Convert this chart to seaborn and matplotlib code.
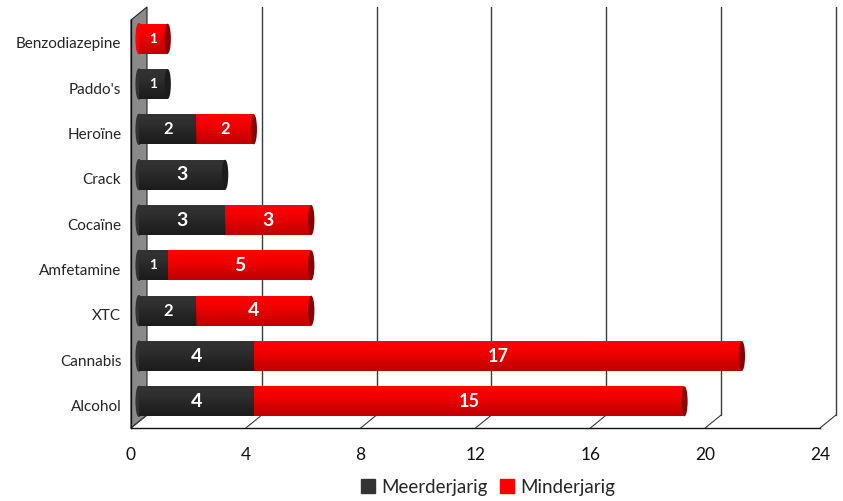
import numpy as np
import pandas as pd
import seaborn as sns
import matplotlib.pyplot as plt
from matplotlib.transforms import offset_copy
from matplotlib.patches import Ellipse, Polygon, Rectangle

# data, top to bottom as in the chart
categories = ["Benzodiazepine", "Paddo's", "Heroïne", "Crack", "Cocaïne",
              "Amfetamine", "XTC", "Cannabis", "Alcohol"]
meerderjarig = [0, 1, 2, 3, 3, 1, 2, 4, 4]
minderjarig = [1, 0, 2, 0, 3, 5, 4, 17, 15]
x_ticks = [0, 4, 8, 12, 16, 20, 24]

df = pd.DataFrame({"drug": categories, "meer": meerderjarig, "minder": minderjarig})
df["totaal"] = df["meer"] + df["minder"]

DARK = "#333333"
RED = "#ff0000"

sns.set_style("white")
plt.rcParams["font.family"] = ["Lato", "DejaVu Sans"]

W, H = 843, 501
fig = plt.figure(figsize=(W / 100, H / 100), dpi=100)
ax = fig.add_axes([131 / W, (H - 428) / H, (820 - 131) / W, (428 - 20) / H])

# stacked bars: total in red, meerderjarig drawn over it
sns.barplot(data=df, y="drug", x="totaal", color=RED, saturation=1, width=0.66,
            errorbar=None, orient="h", ax=ax)
sns.barplot(data=df, y="drug", x="meer", color=DARK, saturation=1, width=0.66,
            errorbar=None, orient="h", ax=ax)

# 3d depth: bars sit a little behind the front plane, grid on the back wall
bar_tr = offset_copy(ax.transData, fig=fig, x=8, y=4, units="dots")
dx = 16 / (689 / 24)
dy = 13 / (408 / 9)

patches = list(ax.patches)
for p in patches:
    p.set_transform(bar_tr)
    p.set_linewidth(0)
    p.set_zorder(3)
    w = p.get_width()
    if w <= 0:
        continue
    y0 = p.get_y()
    h = p.get_height()
    x0 = p.get_x()
    # cylinder shading
    shade = np.zeros((40, 1, 4))
    shade[:, 0, 3] = np.concatenate([np.linspace(0.0, 0.04, 12), np.linspace(0.04, 0.26, 28)])
    im = ax.imshow(shade, extent=(x0, x0 + w, y0 + h, y0), aspect="auto",
                   transform=bar_tr, zorder=3.5, interpolation="bilinear")
    im.set_clip_path(p)

ax.set_xlim(0, 24)
ax.set_ylim(8.5, -0.5)

for i, (m, n) in enumerate(zip(meerderjarig, minderjarig)):
    tot = m + n
    # rounded left end
    left_col = DARK if m > 0 else RED
    ax.add_patch(Ellipse((0, i), 0.2, 0.66, color=left_col, transform=bar_tr, zorder=2.9))
    # end cap
    cap_col = "#8a0000" if n > 0 else "#1c1c1c"
    ax.add_patch(Ellipse((tot, i), 0.22, 0.66, facecolor=cap_col, edgecolor="none",
                         transform=bar_tr, zorder=4))
    for start, v in ((0, m), (m, n)):
        if v > 0:
            size = 13 if v >= 10 else min(7.5 + 2.2 * v, 14)
            ax.text(start + v / 2, i, str(v), color="white", fontweight="bold",
                    fontsize=size, ha="center", va="center",
                    transform=bar_tr, zorder=5)

# back wall grid lines and floor diagonals
for x in x_ticks:
    if x > 0:
        ax.plot([x + dx, x + dx], [8.5 - dy, -0.5 - dy], color="#3a3a3a", lw=1,
                clip_on=False, zorder=1)
    ax.plot([x, x + dx], [8.5, 8.5 - dy], color="#3a3a3a", lw=0.8,
            clip_on=False, zorder=1)

# gray side wall
ax.add_patch(Polygon([(0, 8.5), (dx, 8.5 - dy), (dx, -0.5 - dy), (0, -0.5)],
                     closed=True, facecolor="#8a8a8a", edgecolor="#222222", lw=0.8,
                     clip_on=False, zorder=0.5))

for s in ["top", "right"]:
    ax.spines[s].set_visible(False)
for s in ["left", "bottom"]:
    ax.spines[s].set_color("#111111")
    ax.spines[s].set_linewidth(1)

ax.set_xticks(x_ticks)
ax.set_xticklabels([str(t) for t in x_ticks], fontsize=12.5)
ax.tick_params(axis="x", length=5, width=1, direction="out", pad=9, colors="#111111")
ax.set_yticks(range(len(categories)))
ax.set_yticklabels(categories, fontsize=11)
ax.tick_params(axis="y", which="major", length=0, pad=7)
ax.set_yticks(np.arange(-0.5, 9), minor=True)
ax.tick_params(axis="y", which="minor", length=5, width=1, direction="out", colors="#111111")
ax.set_xlabel("")
ax.set_ylabel("")
ax.patch.set_alpha(0)

handles = [Rectangle((0, 0), 1, 1, color=DARK), Rectangle((0, 0), 1, 1, color=RED)]
fig.legend(handles, ["Meerderjarig", "Minderjarig"], loc="center",
           bbox_to_anchor=(488 / W, 14 / H), ncol=2, frameon=False, fontsize=13.5,
           handlelength=0.75, handleheight=0.75, handletextpad=0.3, columnspacing=0.7)

fig.savefig("out.png", dpi=100)
